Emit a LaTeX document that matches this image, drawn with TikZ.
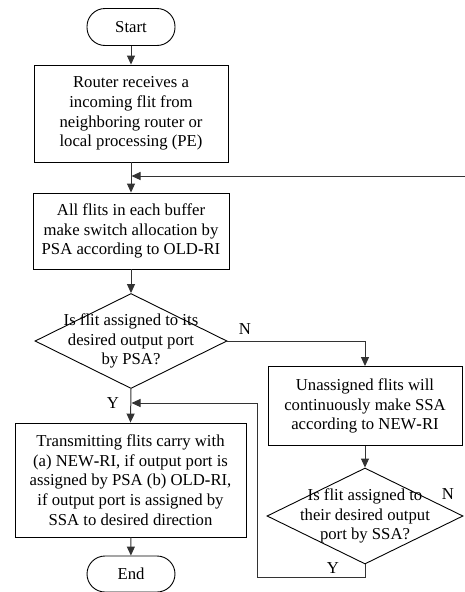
\documentclass[tikz,border=0pt]{standalone}
\usepackage{fontspec}
\setmainfont{Liberation Serif}
\usetikzlibrary{arrows.meta,shapes.geometric}
\begin{document}
\begin{tikzpicture}[x=1pt,y=-1pt,
  every node/.style={font=\fontsize{16.7}{19.8}\selectfont},
  procbox/.style={draw,line width=0.9pt,align=center,inner sep=0pt},
  termbox/.style={draw,line width=0.9pt,rounded corners=18pt,minimum width=88pt,minimum height=37pt,inner sep=0pt},
  dia/.style={draw,line width=0.9pt,diamond,inner sep=0pt},
  dtext/.style={align=center,inner sep=0pt},
  arr/.style={line width=1pt,draw=black!80,-{Triangle[length=9pt,width=8pt]}},
  ln/.style={line width=1pt,draw=black!80},
  lbl/.style={inner sep=0pt}]
\useasboundingbox (0,0) rectangle (465,592);
\node[termbox] (start) at (131,27) {Start};
\node[procbox,minimum width=194pt,minimum height=97pt] (box1) at (131,113.5)
  {Router receives a\\incoming flit from\\neighboring router or\\local processing (PE)};
\node[procbox,minimum width=196pt,minimum height=76pt] (box2) at (131,231)
  {All flits in each buffer\\make switch allocation by\\PSA according to OLD\textbf{-}RI};
\node[dia,minimum width=192pt,minimum height=95pt] (d1) at (131,341) {};
\node[dtext] at (d1.center) {Is flit assigned to its\\desired output port\\by PSA?};
\node[procbox,minimum width=194pt,minimum height=79pt] (box3) at (365,406)
  {Unassigned flits will\\continuously make SSA\\according to NEW\textbf{-}RI};
\node[dia,minimum width=196pt,minimum height=96pt] (d2) at (365,516) {};
\node[dtext] at (d2.center) {Is flit assigned to\\their desired output\\port by SSA?};
\node[procbox,minimum width=231pt,minimum height=114pt] (box4) at (130.5,480)
  {Transmitting flits carry with\\(a) NEW\textbf{-}RI, if output port is\\assigned by PSA (b) OLD\textbf{-}RI,\\if output port is assigned by\\SSA to desired direction};
\node[termbox,minimum height=36pt] (end) at (131,574) {End};
% connectors
\draw[arr] (start) -- (box1);
\draw[arr] (box1) -- (box2);
\coordinate (fbin) at (466,176);
\coordinate (fbout) at (131.5,176);
\draw[arr] (fbin) -- (fbout);
\draw[arr] (box2) -- (d1);
\draw[arr] (d1.east) -| (box3.north);
\node[lbl] at (245,329) {N};
\draw[arr] (d1.south) -- (box4.north);
\node[lbl] at (113,403) {Y};
\draw[arr] (box3) -- (d2);
\node[lbl] at (448,494) {N};
\coordinate (lpa) at (365,577);
\coordinate (lpb) at (257,577);
\coordinate (lpc) at (257,403);
\coordinate (lpd) at (131.5,403);
\draw[ln] (d2.south) -- (lpa) -- (lpb) -- (lpc);
\draw[arr] (lpc) -- (lpd);
\node[lbl] at (333,568) {Y};
\draw[arr] (box4) -- (end);
\end{tikzpicture}
\end{document}
